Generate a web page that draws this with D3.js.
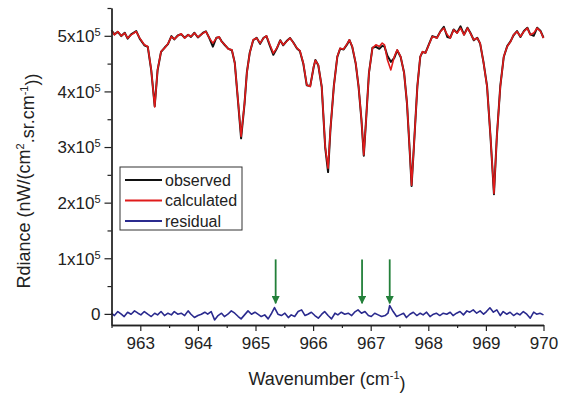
<!DOCTYPE html>
<html>
<head>
<meta charset="utf-8">
<script src="https://cdn.jsdelivr.net/npm/d3@7"></script>
<style>
  body { margin: 0; background: #fff; }
  text { font-family: "Liberation Sans", Arial, sans-serif; fill: #222; }
</style>
</head>
<body>
<div id="chart"></div>
<script>
// spectrum: wavenumber (cm-1) and radiance values
var wn = [962.50,962.55,962.61,962.67,962.73,962.78,962.84,962.93,962.99,963.07,963.13,963.19,963.25,963.30,963.36,963.42,963.48,963.54,963.59,963.65,963.71,963.77,963.83,963.88,963.94,964.00,964.09,964.14,964.20,964.26,964.32,964.37,964.41,964.47,964.53,964.59,964.64,964.70,964.75,964.81,964.85,964.90,964.96,965.02,965.08,965.14,965.19,965.25,965.31,965.37,965.43,965.48,965.54,965.60,965.66,965.72,965.77,965.83,965.89,965.95,966.01,966.04,966.09,966.15,966.21,966.26,966.30,966.36,966.42,966.47,966.53,966.59,966.63,966.68,966.74,966.79,966.84,966.88,966.92,966.97,967.03,967.09,967.15,967.20,967.24,967.29,967.35,967.41,967.46,967.52,967.58,967.63,967.68,967.71,967.75,967.81,967.86,967.90,967.95,968.01,968.07,968.15,968.21,968.27,968.33,968.38,968.44,968.50,968.56,968.62,968.68,968.73,968.79,968.85,968.90,968.96,969.02,969.08,969.14,969.19,969.25,969.31,969.37,969.43,969.48,969.54,969.60,969.66,969.72,969.77,969.83,969.89,969.95,970.00];

var calculated = [509000,501800,507700,500000,504900,495900,501800,507700,495900,483800,480700,438700,372100,438700,471700,477800,485600,498700,494100,500000,503600,495900,501800,498700,504900,497700,504900,507700,495900,486900,495900,498200,489700,483800,476000,474800,450800,379300,318900,379300,433300,468800,492800,495900,486900,495900,500000,483800,468800,477800,491500,483800,489700,495900,486900,477800,473500,450800,411700,408700,444700,455900,447800,408700,300500,262100,330600,408700,462700,477800,476000,485600,492800,480700,450800,408700,348700,285600,348700,432800,477800,483800,480700,486900,483800,456800,438700,462700,474800,462700,432800,379300,289200,231500,300500,408700,462700,471700,468800,483800,498700,495900,507700,513900,501800,495900,510800,504900,513900,501800,513900,504900,492800,495900,486900,450800,408700,318600,216600,318600,408700,462700,480700,489700,501800,507700,498700,507700,513900,501800,504900,513900,507700,495900];

var observed = [510000,502500,507000,499500,505500,495000,502500,508500,495000,483000,480000,438000,373500,438000,471000,478500,485000,499500,493500,500500,503000,496500,502000,498000,505500,497000,505500,508000,495500,480500,496500,497500,490500,483000,476500,474000,451500,378000,315700,378500,434000,469500,492000,496500,485500,496500,499500,482000,465800,477000,492000,483000,490500,496000,487500,477000,472500,450000,411000,409500,444000,456500,447000,408000,299500,254900,330000,409500,462000,477000,475500,484500,492500,480000,450000,408000,348000,284500,349000,433500,478500,480200,476600,482000,480500,464000,453200,460500,474000,462000,433500,378500,288000,230000,301000,409000,462000,471000,469500,484500,499500,496500,508000,516200,498000,496500,511500,505500,517100,502000,514500,505500,492000,496500,486000,451500,409500,318000,215000,319000,409500,462000,481500,490500,501000,508500,498000,508500,514500,502500,500000,514500,508500,496500];

// residual = observed - calculated
var residWn = [962.50,962.55,962.61,962.67,962.72,962.78,962.84,962.90,962.96,963.01,963.07,963.13,963.19,963.25,963.30,963.36,963.42,963.48,963.54,963.59,963.65,963.71,963.77,963.83,963.88,963.94,964.00,964.06,964.12,964.17,964.23,964.29,964.35,964.41,964.46,964.52,964.58,964.64,964.70,964.75,964.81,964.87,964.93,964.99,965.04,965.10,965.16,965.22,965.28,965.33,965.39,965.45,965.51,965.57,965.62,965.68,965.74,965.80,965.86,965.91,965.97,966.03,966.09,966.15,966.20,966.26,966.32,966.38,966.43,966.49,966.55,966.61,966.67,966.72,966.78,966.84,966.90,966.96,967.01,967.07,967.13,967.19,967.25,967.30,967.33,967.39,967.45,967.51,967.57,967.62,967.68,967.74,967.80,967.86,967.91,967.97,968.03,968.09,968.14,968.20,968.26,968.32,968.38,968.43,968.49,968.55,968.61,968.67,968.72,968.78,968.84,968.90,968.96,969.01,969.07,969.13,969.19,969.25,969.30,969.36,969.42,969.48,969.54,969.59,969.65,969.71,969.77,969.83,969.88,969.94,970.00];

var residual = [1200,-3000,4200,-600,-4800,3000,-600,5400,1200,-1800,4200,-600,-4800,1200,-1800,4200,-3000,1200,-1800,4200,-600,1200,-3000,5400,-600,-6600,-3000,-600,3000,-600,4200,-10800,-3000,1200,-4800,-600,5400,1200,-4800,-9000,-1800,5400,-600,3000,-600,-4800,-1800,-9000,1200,11400,-600,-3000,1200,-6600,-1800,-4800,4200,7200,-3000,-600,3000,-3000,-7800,-600,4200,-3000,-9000,1200,-1800,3000,-600,1200,-3000,3000,7200,1200,4200,-3000,-4800,1200,-1800,-4800,-3000,1200,15000,4200,-4800,-1800,1200,-6600,-600,3000,-3000,1200,-1800,3000,-4800,-600,1200,-3000,1200,-600,3000,-3000,1200,4200,-1800,5400,3000,7200,1200,5400,-600,4200,11000,3000,7200,-3000,4200,-600,3000,-3000,1200,-1800,4200,-600,-7800,3000,-600,1200,-1800];

// marked lines (green arrows)
var arrowWn = [965.35, 966.85, 967.33];

var xTicks = [963, 964, 965, 966, 967, 968, 969, 970];
var xMinor = [962.5, 963.5, 964.5, 965.5, 966.5, 967.5, 968.5, 969.5];
var yTicks = [0, 100000, 200000, 300000, 400000, 500000];
var yMinor = [50000, 150000, 250000, 350000, 450000, 550000];

var legendNames = ["observed", "calculated", "residual"];
var legendColors = ["#111111", "#e01b1b", "#2a2a8e"];

var width = 569, height = 394;

var svg = d3.select("#chart")
  .append("svg")
    .attr("width", width)
    .attr("height", height);

var x = d3.scaleLinear()
  .domain([962.5, 970])
  .range([111.5, 543.5]);

var y = d3.scaleLinear()
  .domain([-20000, 550000])
  .range([325, 8]);

// data lines
var line = d3.line()
  .x(function(d) { return x(d[0]); })
  .y(function(d) { return y(d[1]); });

svg.append("path")
  .datum(residWn.map(function(w, i) { return [w, residual[i]]; }))
  .attr("fill", "none")
  .attr("stroke", legendColors[2])
  .attr("stroke-width", 1.6)
  .attr("stroke-linejoin", "round")
  .attr("d", line);

svg.append("path")
  .datum(wn.map(function(w, i) { return [w, observed[i]]; }))
  .attr("fill", "none")
  .attr("stroke", legendColors[0])
  .attr("stroke-width", 2)
  .attr("stroke-linejoin", "round")
  .attr("d", line);

svg.append("path")
  .datum(wn.map(function(w, i) { return [w, calculated[i]]; }))
  .attr("fill", "none")
  .attr("stroke", legendColors[1])
  .attr("stroke-width", 1.6)
  .attr("stroke-linejoin", "round")
  .attr("d", line);

// green arrows
var defs = svg.append("defs");
defs.append("marker")
    .attr("id", "arrowhead")
    .attr("viewBox", "0 0 10 10")
    .attr("refX", 9).attr("refY", 5)
    .attr("markerWidth", 4.5).attr("markerHeight", 4.5)
    .attr("orient", "auto")
  .append("path")
    .attr("d", "M0,0 L10,5 L0,10 z")
    .attr("fill", "#23803a");

svg.selectAll(".arrow")
  .data(arrowWn)
  .enter().append("line")
    .attr("class", "arrow")
    .attr("x1", function(d) { return x(d); })
    .attr("x2", function(d) { return x(d); })
    .attr("y1", y(98000))
    .attr("y2", y(19000))
    .attr("stroke", "#23803a")
    .attr("stroke-width", 1.8)
    .attr("marker-end", "url(#arrowhead)");

// axes
var xAxis = svg.append("g")
  .attr("transform", "translate(0," + y(-20000) + ")")
  .call(d3.axisBottom(x).tickValues(xTicks).tickSize(6).tickSizeOuter(0).tickPadding(6)
    .tickFormat(d3.format("d")));
svg.append("g")
  .attr("transform", "translate(0," + y(-20000) + ")")
  .call(d3.axisBottom(x).tickValues(xMinor).tickSize(3).tickSizeOuter(0).tickFormat(""));

var yAxis = svg.append("g")
  .attr("transform", "translate(" + x(962.5) + ",0)")
  .call(d3.axisLeft(y).tickValues(yTicks).tickSize(7).tickSizeOuter(0).tickPadding(4)
    .tickFormat(""));
svg.append("g")
  .attr("transform", "translate(" + x(962.5) + ",0)")
  .call(d3.axisLeft(y).tickValues(yMinor).tickSize(4).tickSizeOuter(0).tickFormat(""));

svg.selectAll(".domain").attr("stroke", "#222").attr("stroke-width", 1.3);
svg.selectAll(".tick line").attr("stroke", "#222").attr("stroke-width", 1.2);

xAxis.selectAll(".tick text")
  .style("font-size", "17px")
  .attr("fill", "#222");

// y tick labels with superscript exponent
yAxis.selectAll(".tick").each(function(d) {
  var t = d3.select(this).append("text")
    .attr("x", -11)
    .attr("dy", "0.35em")
    .style("text-anchor", "end")
    .style("font-size", "17px");
  if (d === 0) {
    t.text("0");
  } else {
    t.append("tspan").text((d / 100000) + "x10");
    t.append("tspan").attr("dy", "-0.55em").style("font-size", "11px").text("5");
  }
});

// axis titles
var xt = svg.append("text")
  .attr("transform", "translate(" + 327 + "," + 385 + ")")
  .style("text-anchor", "middle")
  .style("font-size", "18px");
xt.append("tspan").text("Wavenumber (cm");
xt.append("tspan").attr("dy", "-0.55em").style("font-size", "11px").text("-1");
xt.append("tspan").attr("dy", "0.55em").text(")");

var yt = svg.append("text")
  .attr("transform", "translate(" + 30 + "," + 181 + ") rotate(-90)")
  .style("text-anchor", "middle")
  .style("font-size", "18px");
yt.append("tspan").text("Rdiance (nW/(cm");
yt.append("tspan").attr("dy", "-0.55em").style("font-size", "11px").text("2");
yt.append("tspan").attr("dy", "0.55em").text(".sr.cm");
yt.append("tspan").attr("dy", "-0.55em").style("font-size", "11px").text("-1");
yt.append("tspan").attr("dy", "0.55em").text("))");

// legend
var legend = svg.append("g")
  .attr("transform", "translate(120,167)");
legend.append("rect")
  .attr("width", 122)
  .attr("height", 63)
  .attr("fill", "#fff")
  .attr("stroke", "#333")
  .attr("stroke-width", 1);

var items = legend.selectAll(".item")
  .data(legendNames)
  .enter().append("g")
    .attr("transform", function(d, i) { return "translate(0," + (13 + i * 20.5) + ")"; });
items.append("line")
  .attr("x1", 5).attr("x2", 42)
  .attr("stroke", function(d, i) { return legendColors[i]; })
  .attr("stroke-width", 1.8);
items.append("text")
  .attr("x", 45)
  .attr("dy", "0.35em")
  .style("font-size", "16px")
  .text(function(d) { return d; });
</script>
</body>
</html>
